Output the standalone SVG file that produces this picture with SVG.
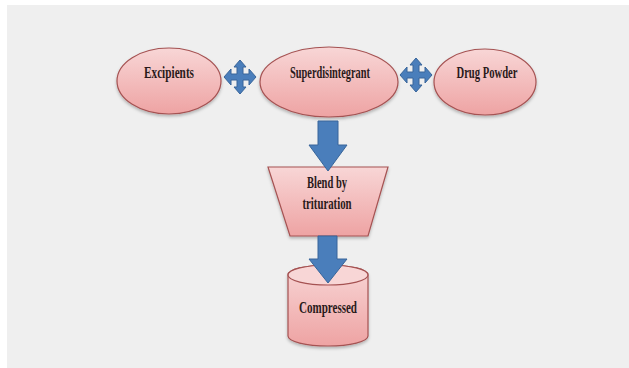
<svg xmlns="http://www.w3.org/2000/svg" width="629" height="368" viewBox="0 0 629 368">
<defs>
<linearGradient id="pink" x1="0" y1="0" x2="0" y2="1">
<stop offset="0" stop-color="#f8d6d6"/>
<stop offset="1" stop-color="#eea3a3"/>
</linearGradient>
<filter id="sh" x="-20%" y="-20%" width="140%" height="150%">
<feDropShadow dx="0" dy="2" stdDeviation="1.5" flood-color="#000" flood-opacity="0.25"/>
</filter>
<path id="quad" d="M0,-17 L6,-10 L3,-10 L3,-3 L9,-3 L9,-8 L16,0 L9,8 L9,3 L3,3 L3,10 L6,10 L0,17 L-6,10 L-3,10 L-3,3 L-9,3 L-9,8 L-16,0 L-9,-8 L-9,-3 L-3,-3 L-3,-10 L-6,-10 Z"/>
</defs>
<style>
.shape{fill:url(#pink);stroke:#a55252;stroke-width:1.2;filter:url(#sh)}
.arrow{fill:#4a7ebb;stroke:#38659a;stroke-width:1}
.lbl{font-family:"Liberation Serif",serif;font-weight:bold;font-size:17px;fill:#2a1a1a;text-anchor:middle}
</style>
<rect x="0" y="0" width="629" height="368" fill="#ffffff"/>
<rect x="7" y="5" width="622" height="363" fill="#efefef"/>
<g id="excipients">
<ellipse class="shape" cx="169" cy="81" rx="52" ry="33"/>
<text class="lbl" x="169" y="78" textLength="50" lengthAdjust="spacingAndGlyphs">Excipients</text>
</g>
<g id="superdisintegrant">
<ellipse class="shape" cx="329" cy="82" rx="69" ry="35"/>
<text class="lbl" x="330" y="78" textLength="80" lengthAdjust="spacingAndGlyphs">Superdisintegrant</text>
</g>
<g id="drugpowder">
<ellipse class="shape" cx="485" cy="82" rx="51" ry="33"/>
<text class="lbl" x="487" y="78" textLength="61" lengthAdjust="spacingAndGlyphs">Drug Powder</text>
</g>
<g id="blend">
<path class="shape" d="M268,167 L388,167 L368,236 L290,236 Z"/>
<text class="lbl" x="327" y="188" textLength="40" lengthAdjust="spacingAndGlyphs">Blend by</text>
<text class="lbl" x="327" y="209" textLength="49" lengthAdjust="spacingAndGlyphs">trituration</text>
</g>
<g id="compressed">
<path class="shape" d="M288,275 L288,336 A40,10 0 0 0 368,336 L368,275 A40,10 0 0 0 288,275 Z"/>
<ellipse cx="328" cy="275" rx="40" ry="10" fill="#f8d6d6" stroke="#a55252" stroke-width="1.2"/>
<text class="lbl" x="328" y="313" textLength="58" lengthAdjust="spacingAndGlyphs">Compressed</text>
</g>
<g id="connectors">
<use href="#quad" class="arrow" transform="translate(240,77)"/>
<use href="#quad" class="arrow" transform="translate(416,75)"/>
<path class="arrow" d="M318,121 L338,121 L338,145 L347,145 L328,171 L309,145 L318,145 Z"/>
<path class="arrow" d="M318,236 L337,236 L337,259 L347,259 L328,283 L309,259 L318,259 Z"/>
</g>
</svg>
